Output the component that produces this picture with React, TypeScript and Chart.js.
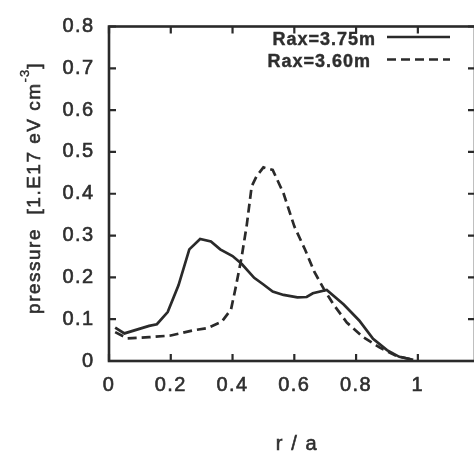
import { useEffect, useRef } from "react";
import { Chart, registerables } from "chart.js";

Chart.register(...registerables);

// ---- data ----
const rTicks = [0, 0.2, 0.4, 0.6, 0.8, 1];
const pTicks = [0, 0.1, 0.2, 0.3, 0.4, 0.5, 0.6, 0.7, 0.8];
const seriesNames = ["Rax=3.75m", "Rax=3.60m"];

const r375 = [0.02, 0.05, 0.13, 0.155, 0.19, 0.225, 0.26, 0.295, 0.33, 0.36, 0.4, 0.43, 0.47, 0.5, 0.53, 0.565, 0.61, 0.64, 0.66, 0.705, 0.76, 0.81, 0.855, 0.9, 0.94, 0.985];
const p375 = [0.08, 0.066, 0.084, 0.088, 0.117, 0.181, 0.267, 0.292, 0.286, 0.267, 0.251, 0.232, 0.199, 0.183, 0.166, 0.158, 0.152, 0.153, 0.162, 0.17, 0.135, 0.097, 0.053, 0.026, 0.01, 0.003];

const r360 = [0.02, 0.06, 0.13, 0.2, 0.27, 0.32, 0.365, 0.395, 0.41, 0.43, 0.446, 0.462, 0.478, 0.5, 0.53, 0.565, 0.6, 0.635, 0.665, 0.695, 0.727, 0.77, 0.823, 0.877, 0.93, 0.985];
const p360 = [0.069, 0.054, 0.057, 0.061, 0.073, 0.079, 0.094, 0.123, 0.175, 0.251, 0.325, 0.418, 0.442, 0.463, 0.457, 0.401, 0.322, 0.266, 0.213, 0.173, 0.135, 0.092, 0.057, 0.032, 0.012, 0.003];

const xTitle = "r / a";
const yTitleMain = "pressure  [1.E17 eV cm";
const yTitleSup = "-3";
const yTitleEnd = "]";

// ---- style ----
const W = 480;
const H = 452;
const INK = "#2a2a2a";
const TEXT = "#2e2e2e";
const FAMILY = "'Liberation Sans', Arial, Helvetica, sans-serif";

const fmt = (v: number) => String(Number(Number(v).toFixed(1)));

function heavyText(ctx: CanvasRenderingContext2D, s: string, x: number, y: number, w = 0.6) {
  ctx.fillText(s, x, y);
  ctx.lineWidth = w;
  ctx.strokeStyle = TEXT;
  ctx.setLineDash([]);
  ctx.strokeText(s, x, y);
}

const framePlugin = {
  id: "frame",
  beforeDraw(chart: any) {
    chart.ctx.letterSpacing = "1.4px";
  },
  afterDraw(chart: any) {
    const { ctx, chartArea: a, scales } = chart;
    ctx.save();
    ctx.letterSpacing = "0px";
    ctx.setLineDash([]);
    ctx.strokeStyle = INK;
    ctx.lineWidth = 2.6;
    ctx.strokeRect(a.left, a.top, a.right - a.left, a.bottom - a.top);

    const T = 7;
    ctx.lineWidth = 2.2;
    ctx.beginPath();
    for (const v of rTicks) {
      const x = scales.x.getPixelForValue(v);
      ctx.moveTo(x, a.bottom);
      ctx.lineTo(x, a.bottom - T);
      ctx.moveTo(x, a.top);
      ctx.lineTo(x, a.top + T);
    }
    for (const v of pTicks) {
      const y = scales.y.getPixelForValue(v);
      ctx.moveTo(a.left, y);
      ctx.lineTo(a.left + T, y);
      ctx.moveTo(a.right, y);
      ctx.lineTo(a.right - T, y);
    }
    ctx.stroke();

    // legend
    const legendRows = [
      { textRight: 376, baseline: 45, lineY: 37 },
      { textRight: 371, baseline: 67, lineY: 59.5 },
    ];
    chart.data.datasets.forEach((ds: any, i: number) => {
      const row = legendRows[i];
      ctx.font = `bold 18px ${FAMILY}`;
      ctx.letterSpacing = "1px";
      ctx.fillStyle = TEXT;
      ctx.textAlign = "right";
      ctx.textBaseline = "alphabetic";
      heavyText(ctx, ds.label, row.textRight, row.baseline, 0.4);
      ctx.letterSpacing = "0px";
      ctx.strokeStyle = ds.borderColor;
      ctx.lineWidth = ds.borderWidth;
      ctx.setLineDash(ds.borderDash || []);
      ctx.beginPath();
      ctx.moveTo(387, row.lineY);
      ctx.lineTo(450, row.lineY);
      ctx.stroke();
    });
    ctx.setLineDash([]);

    // x title
    ctx.font = `20px ${FAMILY}`;
    ctx.letterSpacing = "1.6px";
    ctx.fillStyle = TEXT;
    ctx.textAlign = "center";
    ctx.textBaseline = "alphabetic";
    heavyText(ctx, xTitle, 297, 450);

    // y title (rotated, with superscript)
    ctx.save();
    ctx.translate(40, 188);
    ctx.rotate(-Math.PI / 2);
    ctx.textAlign = "left";
    ctx.font = `19px ${FAMILY}`;
    ctx.letterSpacing = "1.5px";
    const w1 = ctx.measureText(yTitleMain).width;
    const w3 = ctx.measureText(yTitleEnd).width;
    ctx.font = `13px ${FAMILY}`;
    ctx.letterSpacing = "1px";
    const w2 = ctx.measureText(yTitleSup).width;
    let x = -(w1 + w2 + w3) / 2;
    ctx.font = `19px ${FAMILY}`;
    ctx.letterSpacing = "1.5px";
    heavyText(ctx, yTitleMain, x, 0);
    x += w1;
    ctx.font = `13px ${FAMILY}`;
    ctx.letterSpacing = "1px";
    heavyText(ctx, yTitleSup, x, -11, 0.4);
    x += w2;
    ctx.font = `19px ${FAMILY}`;
    ctx.letterSpacing = "1.5px";
    heavyText(ctx, yTitleEnd, x, 0);
    ctx.restore();

    ctx.restore();
  },
};

export default function App() {
  const ref = useRef<HTMLCanvasElement | null>(null);

  useEffect(() => {
    if (!ref.current) return;
    const chart = new Chart(ref.current, {
      type: "line",
      data: {
        datasets: [
          {
            label: seriesNames[0],
            data: r375.map((r, i) => ({ x: r, y: p375[i] })),
            borderColor: INK,
            borderWidth: 2.7,
            pointRadius: 0,
            tension: 0,
            fill: false,
          },
          {
            label: seriesNames[1],
            data: r360.map((r, i) => ({ x: r, y: p360[i] })),
            borderColor: INK,
            borderWidth: 2.7,
            borderDash: [9, 5],
            pointRadius: 0,
            tension: 0,
            fill: false,
          },
        ],
      },
      options: {
        responsive: false,
        animation: false,
        events: [],
        layout: { padding: { top: 18, right: W - 475, left: 0, bottom: 0 } },
        plugins: { legend: { display: false }, tooltip: { enabled: false } },
        scales: {
          x: {
            type: "linear",
            min: 0,
            max: 1.185,
            grid: { display: false, drawTicks: false },
            border: { display: false },
            afterBuildTicks: (s: any) => {
              s.ticks = rTicks.map((v) => ({ value: v }));
            },
            afterFit: (s: any) => {
              s.height = H - 361;
            },
            ticks: {
              padding: 12,
              color: TEXT,
              textStrokeColor: TEXT,
              textStrokeWidth: 0.6,
              autoSkip: false,
              maxRotation: 0,
              font: { family: FAMILY, size: 20 },
              callback: (v: any) => fmt(v),
            },
          },
          y: {
            type: "linear",
            min: 0,
            max: 0.8,
            grid: { display: false, drawTicks: false },
            border: { display: false },
            afterBuildTicks: (s: any) => {
              s.ticks = pTicks.map((v) => ({ value: v }));
            },
            afterFit: (s: any) => {
              s.width = 109;
            },
            ticks: {
              padding: 14.5,
              color: TEXT,
              textStrokeColor: TEXT,
              textStrokeWidth: 0.6,
              autoSkip: false,
              font: { family: FAMILY, size: 20 },
              callback: (v: any) => fmt(v),
            },
          },
        },
      },
      plugins: [framePlugin],
    } as any);
    return () => chart.destroy();
  }, []);

  return (
    <div
      style={{
        position: "absolute",
        left: 0,
        top: 0,
        width: 474,
        height: 452,
        overflow: "hidden",
        background: "#fff",
      }}
    >
      <canvas ref={ref} width={W} height={H} style={{ display: "block", width: W, height: H }} />
    </div>
  );
}
